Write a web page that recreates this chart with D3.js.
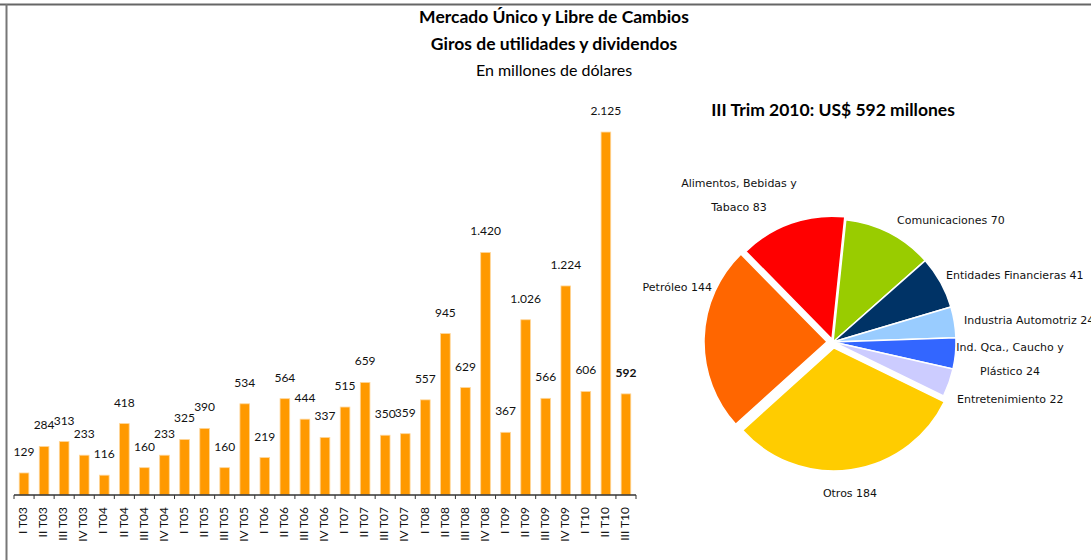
<!DOCTYPE html>
<html>
<head>
<meta charset="utf-8">
<script src="https://cdn.jsdelivr.net/npm/d3@7"></script>
<style>
  body { margin: 0; background: #fff; }
  svg { display: block; }
  .bar-label, .tick-label { font-family: Lato, "Open Sans", sans-serif; font-size: 12px; fill: #111; }
  .pie-label { font-family: "DejaVu Sans", Verdana, sans-serif; font-size: 11px; fill: #111; }
</style>
</head>
<body>
<svg width="1091" height="560"></svg>
<script>
// quarters and amounts (millones de dólares)
const quarters = ["I T03","II T03","III T03","IV T03","I T04","II T04","III T04","IV T04",
  "I T05","II T05","III T05","IV T05","I T06","II T06","III T06","IV T06",
  "I T07","II T07","III T07","IV T07","I T08","II T08","III T08","IV T08",
  "I T09","II T09","III T09","IV T09","I T10","II T10","III T10"];
const amounts = [129,284,313,233,116,418,160,233,325,390,160,534,219,564,444,337,
  515,659,350,359,557,945,629,1420,367,1026,566,1224,606,2125,592];

// III Trim 2010 breakdown
const sectorLines = [["Alimentos, Bebidas y","Tabaco"],["Comunicaciones"],["Entidades Financieras"],
  ["Industria Automotriz"],["Ind. Qca., Caucho y","Plástico"],["Entretenimiento"],["Otros"],["Petróleo"]];
const sectorValues = [83,70,41,24,24,22,184,144];
const sectorColors = ["#ff0000","#99cc00","#003366","#99ccff","#3366ff","#ccccff","#ffcc00","#ff6600"];

let svg = d3.select('svg');
const fmt = d3.formatLocale({decimal: ",", thousands: ".", grouping: [3], currency: ["$",""]}).format(",d");

// frame
svg.append('line').attr('x1', 0).attr('x2', 1091).attr('y1', 4.5).attr('y2', 4.5)
  .attr('stroke', '#666').attr('stroke-width', 2);
svg.append('line').attr('x1', 6.5).attr('x2', 6.5).attr('y1', 4).attr('y2', 560)
  .attr('stroke', '#777').attr('stroke-width', 2);

// titles
const titles = [
  {t: "Mercado Único y Libre de Cambios", y: 23, w: 'bold', s: 17.5},
  {t: "Giros de utilidades y dividendos", y: 50, w: 'bold', s: 17.5},
  {t: "En millones de dólares", y: 76, w: 'normal', s: 16}
];
svg.selectAll('text.title').data(titles).enter().append('text')
  .attr('class', 'title')
  .attr('x', 554).attr('y', d => d.y)
  .attr('text-anchor', 'middle')
  .style('font-family', 'Lato, sans-serif')
  .style('font-size', d => d.s + 'px')
  .style('font-weight', d => d.w)
  .text(d => d.t);

// bar chart
let x = d3.scaleBand().domain(quarters).range([14, 636]).paddingInner(0.52).paddingOuter(0.26);
let y = d3.scaleLinear().domain([0, 2500]).range([495, 68]);

svg.selectAll('rect.bar').data(amounts).enter().append('rect')
  .attr('class', 'bar')
  .attr('x', (d, i) => x(quarters[i]))
  .attr('width', x.bandwidth())
  .attr('y', d => y(d))
  .attr('height', d => y(0) - y(d))
  .attr('fill', '#ff9900')
  .attr('stroke', '#ffd699')
  .attr('stroke-width', 0.8);

svg.selectAll('text.bar-label').data(amounts).enter().append('text')
  .attr('class', 'bar-label')
  .attr('x', (d, i) => x(quarters[i]) + x.bandwidth() / 2)
  .attr('y', d => y(d) - 17)
  .attr('text-anchor', 'middle')
  .style('font-weight', (d, i) => i == amounts.length - 1 ? 'bold' : 'normal')
  .text(d => fmt(d));

// axis: line with ticks between categories
const step = x.step();
const x0 = x.range()[0];
svg.append('line').attr('x1', x0).attr('x2', x.range()[1])
  .attr('y1', y(0)).attr('y2', y(0))
  .attr('stroke', '#333').attr('stroke-width', 1.5);
svg.selectAll('line.tick').data(d3.range(quarters.length + 1)).enter().append('line')
  .attr('class', 'tick')
  .attr('x1', i => x0 + i * step).attr('x2', i => x0 + i * step)
  .attr('y1', y(0)).attr('y2', y(0) + 4)
  .attr('stroke', '#333').attr('stroke-width', 1);

svg.selectAll('text.tick-label').data(quarters).enter().append('text')
  .attr('class', 'tick-label')
  .attr('transform', d => 'translate(' + (x(d) + x.bandwidth() / 2 - 1) + ',507) rotate(-90)')
  .attr('text-anchor', 'end')
  .attr('dy', '0.35em')
  .text(d => d);

// pie
const cx = 833, cy = 342, radius = 123;
svg.append('text')
  .attr('x', cx).attr('y', 116)
  .attr('text-anchor', 'middle')
  .style('font-family', 'Lato, sans-serif')
  .style('font-size', '17.5px')
  .style('font-weight', 'bold')
  .text("III Trim 2010: US$ 592 millones");

const startA = -44.5 * Math.PI / 180;
let pie = d3.pie().sort(null).startAngle(startA).endAngle(startA + 2 * Math.PI);
let arc = d3.arc().innerRadius(0).outerRadius(radius);
const explode = [3, 0, 0, 0, 0, 0, 6, 6];

let g = svg.append('g').attr('transform', 'translate(' + cx + ',' + cy + ')');
g.selectAll('path').data(pie(sectorValues)).enter().append('path')
  .attr('d', arc)
  .attr('fill', (d, i) => sectorColors[i])
  .attr('stroke', '#fff')
  .attr('stroke-width', 1.5)
  .attr('transform', (d, i) => {
    const a = (d.startAngle + d.endAngle) / 2;
    return 'translate(' + (Math.sin(a) * explode[i]) + ',' + (-Math.cos(a) * explode[i]) + ')';
  });

// label placement relative to pie centre: [dx, dy of first line, anchor]
const labelLayout = [
  [-94, -159, 'middle'], [64, -122, 'start'], [113, -67, 'start'], [131, -22, 'start'],
  [177, 5, 'middle'], [124, 57, 'start'], [17, 151, 'middle'], [-121, -55, 'end']
];
const lineGap = 24;
sectorLines.forEach((lines, i) => {
  const L = labelLayout[i];
  const t = g.append('text')
    .attr('class', 'pie-label')
    .attr('text-anchor', L[2]);
  lines.forEach((ln, j) => {
    t.append('tspan')
      .attr('x', L[0])
      .attr('y', L[1] + j * lineGap)
      .attr('dy', '0.35em')
      .text(j == lines.length - 1 ? ln + ' ' + sectorValues[i] : ln);
  });
});
</script>
</body>
</html>
